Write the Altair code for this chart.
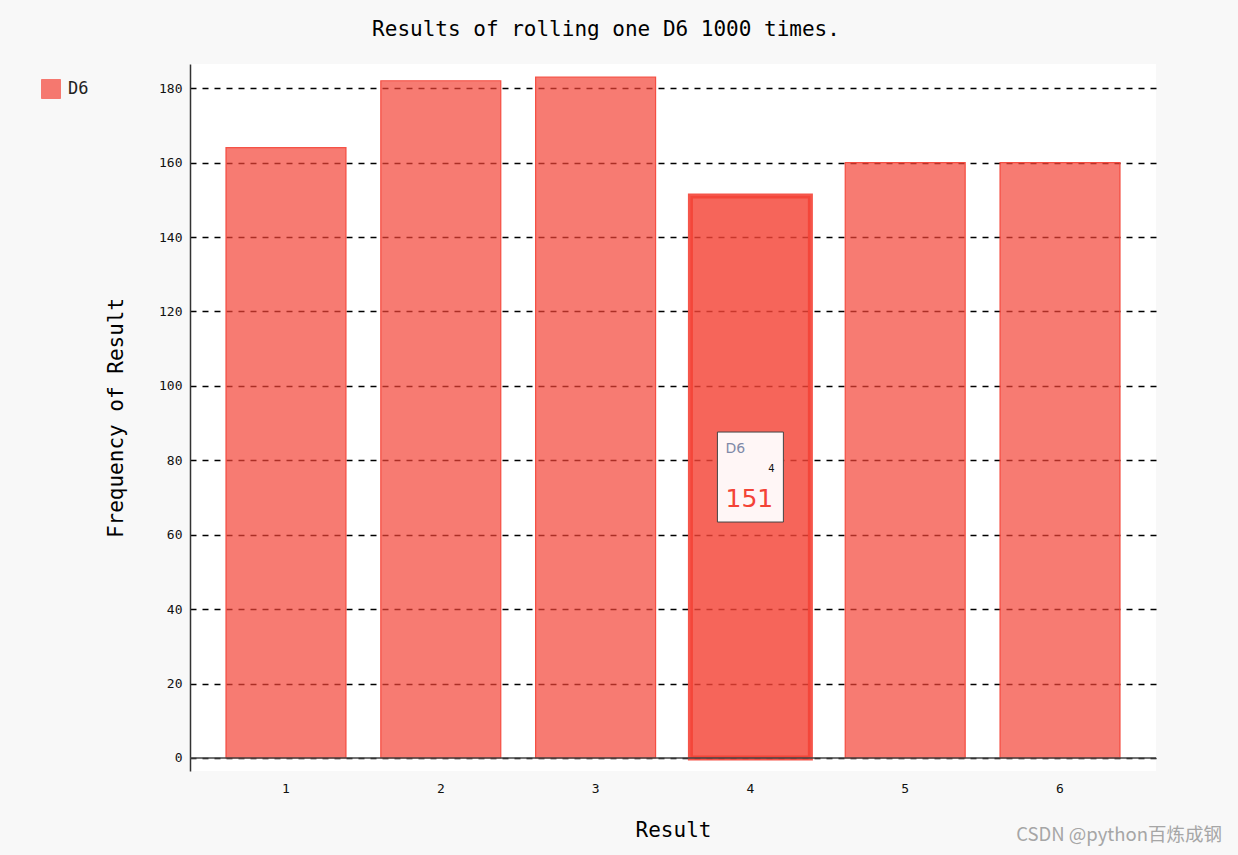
import altair as alt
import pandas as pd

# ---- data ----
results = [1, 2, 3, 4, 5, 6]
frequencies = [164, 182, 183, 151, 160, 160]
series_name = "D6"
highlighted_result = 4          # bar shown in hover state with its tooltip
y_ticks = [0, 20, 40, 60, 80, 100, 120, 140, 160, 180]
title_text = "Results of rolling one D6 1000 times."
x_title = "Result"
y_title = "Frequency of Result"
watermark = "CSDN @python百炼成钢"

df = pd.DataFrame({
    "result": results,
    "count": frequencies,
    "series": [series_name] * len(results),
    "hl": [r == highlighted_result for r in results],
})

RED = "#F44336"
MONO = "DejaVu Sans Mono"
W, H = 966, 707

xscale = alt.Scale(paddingInner=0.225, paddingOuter=0.2325)
yscale = alt.Scale(domain=[-3.5, 186.5], nice=False, zero=False)

base = alt.Chart(df)

bars = base.mark_bar(stroke=RED, strokeOpacity=0.9).encode(
    x=alt.X("result:O", scale=xscale,
            axis=alt.Axis(title=x_title, labelAngle=0, domain=False, ticks=False,
                          grid=False, labelFont=MONO, labelFontSize=13,
                          labelColor="#111", labelPadding=11,
                          titleFont=MONO, titleFontSize=21, titleFontWeight="normal",
                          titleColor="#000", titleX=W / 2, titleY=59,
                          titleBaseline="middle", titleAlign="center")),
    y=alt.Y("count:Q", scale=yscale,
            axis=alt.Axis(title=y_title, values=y_ticks, grid=True, gridColor="#000",
                          gridDash=[6, 6], gridWidth=1.3, gridOpacity=1, ticks=False,
                          domainColor="#333", domainWidth=1.5,
                          labelFont=MONO, labelFontSize=13, labelColor="#111",
                          labelPadding=8,
                          titleFont=MONO, titleFontSize=21, titleFontWeight="normal",
                          titleColor="#000", titleAngle=270, titleX=-74, titleY=H / 2,
                          titleBaseline="middle", titleAlign="center")),
    color=alt.Color("series:N", scale=alt.Scale(range=[RED]),
                    legend=alt.Legend(title=None, orient="none", legendX=-149, legendY=15,
                                      symbolType="square", symbolSize=361,
                                      symbolOpacity=0.7, symbolStrokeColor=RED,
                                      symbolStrokeWidth=1, labelFont=MONO,
                                      labelFontSize=17, labelColor="#222",
                                      labelOffset=7, padding=0)),
    fillOpacity=alt.condition("datum.hl", alt.value(0.82), alt.value(0.7)),
    strokeWidth=alt.condition("datum.hl", alt.value(5), alt.value(1.2)),
)

zero_line = alt.Chart(pd.DataFrame({"z": [0]})).mark_rule(
    color="#444", strokeWidth=1.5).encode(y=alt.Y("z:Q", scale=yscale))

tip_base = base.transform_filter("datum.hl").transform_calculate(
    mid="datum.count / 2")
tip_x = alt.X("result:O", scale=xscale)
tip_y = alt.Y("mid:Q", scale=yscale)

tip_box = tip_base.mark_point(
    shape="M-0.733,-1L0.733,-1L0.733,1L-0.733,1Z", size=8100, filled=True,
    fill="#fff6f6", stroke="#444", strokeWidth=1, opacity=1,
).encode(x=tip_x, y=tip_y)

tip_name = tip_base.mark_text(
    align="left", baseline="middle", dx=-25, dy=-28, font="DejaVu Sans",
    fontSize=14, color="#7f8aa8",
).encode(x=tip_x, y=tip_y, text="series:N")

tip_key = tip_base.mark_text(
    align="center", baseline="middle", dx=21, dy=-8, font="DejaVu Sans",
    fontSize=10, color="#111",
).encode(x=tip_x, y=tip_y, text="result:O")

tip_val = tip_base.mark_text(
    align="center", baseline="middle", dx=-1, dy=22, font="DejaVu Sans",
    fontSize=25, color=RED,
).encode(x=tip_x, y=tip_y, text="count:Q")

wm = alt.Chart(pd.DataFrame({"t": [watermark]})).mark_text(
    align="right", baseline="middle", font="Noto Sans CJK SC", fontSize=18.5,
    color="#a6a6a6",
).encode(x=alt.value(1032), y=alt.value(771), text="t:N")

chart = alt.layer(bars, zero_line, tip_box, tip_name, tip_key, tip_val, wm).properties(
    width=W, height=H,
    autosize=alt.AutoSizeParams(type="none"),
    padding={"left": 190, "top": 64, "right": 82, "bottom": 84},
    background="#f8f8f8",
    title=alt.TitleParams(title_text, font=MONO, fontSize=21, fontWeight="normal",
                          color="#000", anchor="middle", dx=-67, offset=24),
).configure_view(fill="white", stroke=None)

chart.save("out.html", embed_options={"renderer": "svg", "actions": False})
